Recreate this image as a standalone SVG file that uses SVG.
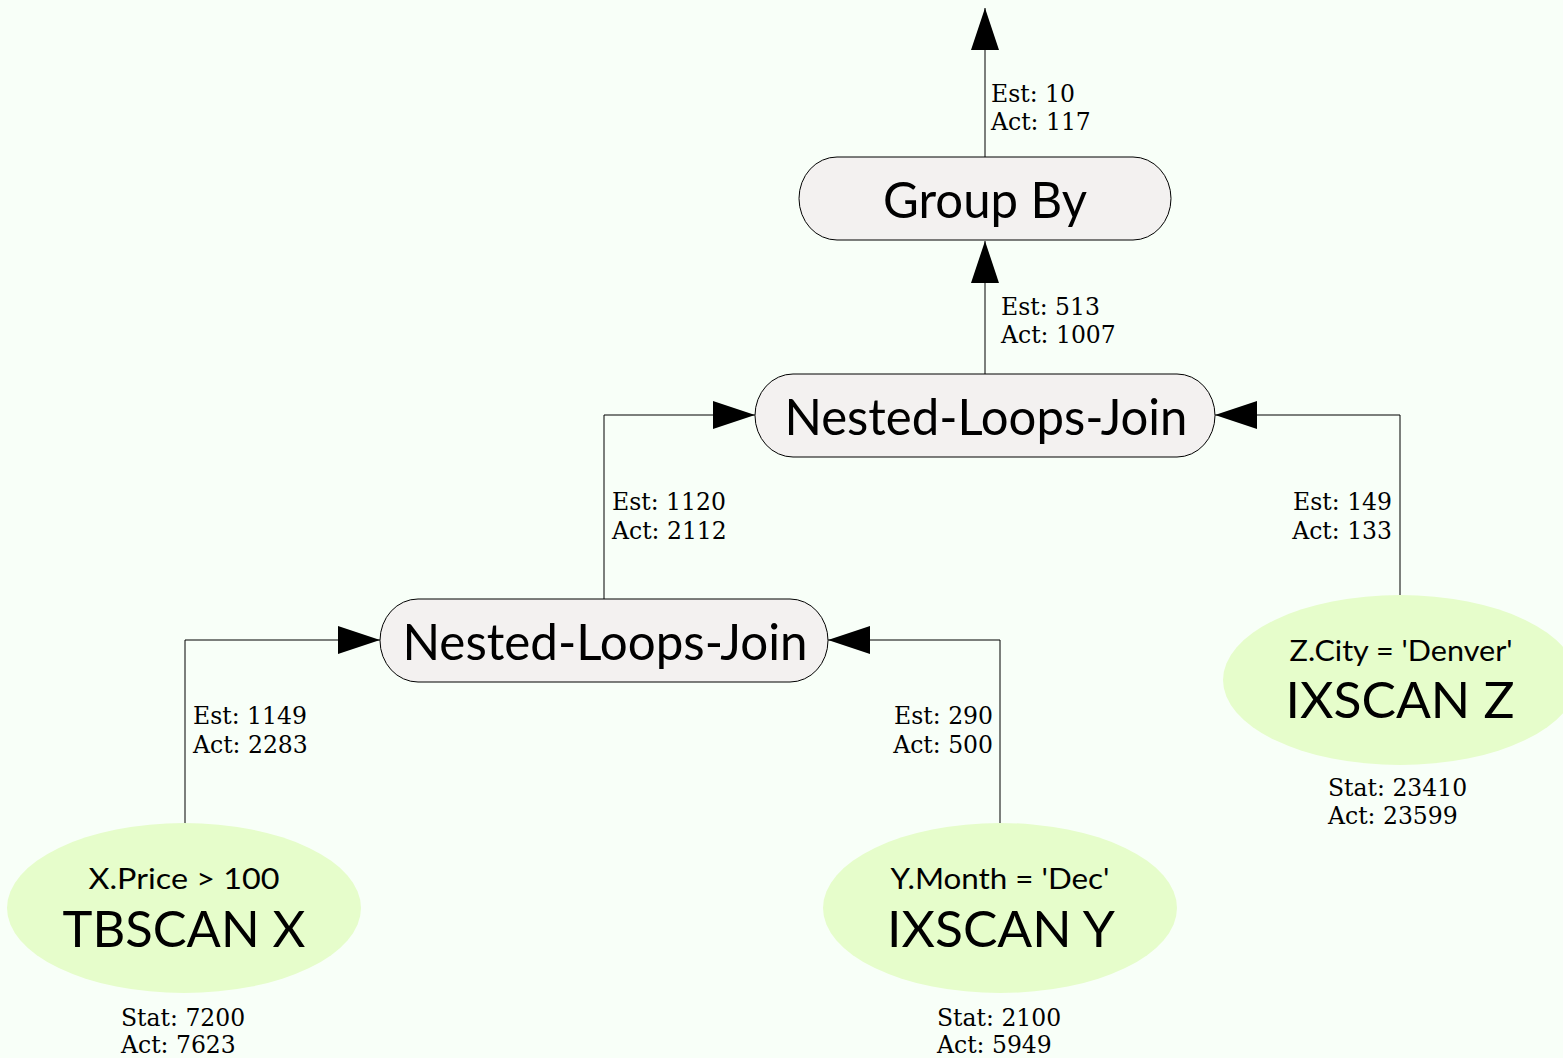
<svg xmlns="http://www.w3.org/2000/svg" width="1563" height="1058" viewBox="0 0 1563 1058">
  <style>
    .op { fill: #f3f1f0; stroke: #000; stroke-width: 1; }
    .scan { fill: #e6fdcb; stroke: none; }
    .big { font-family: "Lato", "Open Sans", sans-serif; font-size: 51px; fill: #000; text-anchor: middle; }
    .pred { font-family: "Lato", "Open Sans", sans-serif; font-size: 29px; fill: #000; text-anchor: middle; }
    .lbl { font-family: "DejaVu Serif", serif; font-size: 23.5px; fill: #000; }
    .edge { fill: none; stroke: #000; stroke-width: 1; }
  </style>
  <defs>
    <marker id="arrow" viewBox="0 0 42 28" refX="42" refY="14" markerWidth="42" markerHeight="28" markerUnits="userSpaceOnUse" orient="auto">
      <path d="M0,0 L42,14 L0,28 Z" fill="#000"/>
    </marker>
  </defs>
  <rect width="1563" height="1058" fill="#f8fff8"/>

  <!-- connectors -->
  <g id="edges">
    <path class="edge" d="M985,157 V8" marker-end="url(#arrow)"/>
    <path class="edge" d="M985,374 V241" marker-end="url(#arrow)"/>
    <path class="edge" d="M604,599 V415 H755" marker-end="url(#arrow)"/>
    <path class="edge" d="M1400,595 V415 H1215" marker-end="url(#arrow)"/>
    <path class="edge" d="M185,824 V640 H380" marker-end="url(#arrow)"/>
    <path class="edge" d="M1000,824 V640 H828" marker-end="url(#arrow)"/>
    <text class="lbl" x="991" y="102">Est: 10</text>
    <text class="lbl" x="991" y="130">Act: 117</text>
    <text class="lbl" x="1001" y="315">Est: 513</text>
    <text class="lbl" x="1001" y="343">Act: 1007</text>
    <text class="lbl" x="612" y="510">Est: 1120</text>
    <text class="lbl" x="612" y="539">Act: 2112</text>
    <text class="lbl" x="1392" y="510" text-anchor="end">Est: 149</text>
    <text class="lbl" x="1392" y="539" text-anchor="end">Act: 133</text>
    <text class="lbl" x="193" y="724">Est: 1149</text>
    <text class="lbl" x="193" y="753">Act: 2283</text>
    <text class="lbl" x="993" y="724" text-anchor="end">Est: 290</text>
    <text class="lbl" x="993" y="753" text-anchor="end">Act: 500</text>
  </g>

  <!-- aggregation -->
  <g id="groupby">
    <rect class="op" x="799" y="157" width="372" height="83" rx="38" ry="41.5"/>
    <text class="big" x="985" y="218" textLength="204" lengthAdjust="spacingAndGlyphs">Group By</text>
  </g>

  <!-- joins -->
  <g id="nlj-top">
    <rect class="op" x="755" y="374" width="460" height="83" rx="38" ry="41.5"/>
    <text class="big" x="986" y="435" textLength="403" lengthAdjust="spacingAndGlyphs">Nested-Loops-Join</text>
  </g>
  <g id="nlj-low">
    <rect class="op" x="380" y="599" width="448" height="83" rx="38" ry="41.5"/>
    <text class="big" x="605" y="660" textLength="405" lengthAdjust="spacingAndGlyphs">Nested-Loops-Join</text>
  </g>

  <!-- scans -->
  <g id="tbscan-x">
    <ellipse class="scan" cx="184" cy="908" rx="177" ry="85"/>
    <text class="pred" x="184" y="889" textLength="191" lengthAdjust="spacingAndGlyphs">X.Price &gt; 100</text>
    <text class="big" x="184" y="947" textLength="243" lengthAdjust="spacingAndGlyphs">TBSCAN X</text>
    <text class="lbl" x="121" y="1026">Stat: 7200</text>
    <text class="lbl" x="121" y="1053">Act: 7623</text>
  </g>
  <g id="ixscan-y">
    <ellipse class="scan" cx="1000" cy="908" rx="177" ry="85"/>
    <text class="pred" x="1000" y="889" textLength="219" lengthAdjust="spacingAndGlyphs">Y.Month = 'Dec'</text>
    <text class="big" x="1001" y="947" textLength="228" lengthAdjust="spacingAndGlyphs">IXSCAN Y</text>
    <text class="lbl" x="937" y="1026">Stat: 2100</text>
    <text class="lbl" x="937" y="1053">Act: 5949</text>
  </g>
  <g id="ixscan-z">
    <ellipse class="scan" cx="1400" cy="680" rx="177" ry="85"/>
    <text class="pred" x="1401" y="661" textLength="223" lengthAdjust="spacingAndGlyphs">Z.City = 'Denver'</text>
    <text class="big" x="1400" y="718" textLength="229" lengthAdjust="spacingAndGlyphs">IXSCAN Z</text>
    <text class="lbl" x="1328" y="796">Stat: 23410</text>
    <text class="lbl" x="1328" y="824">Act: 23599</text>
  </g>
</svg>
